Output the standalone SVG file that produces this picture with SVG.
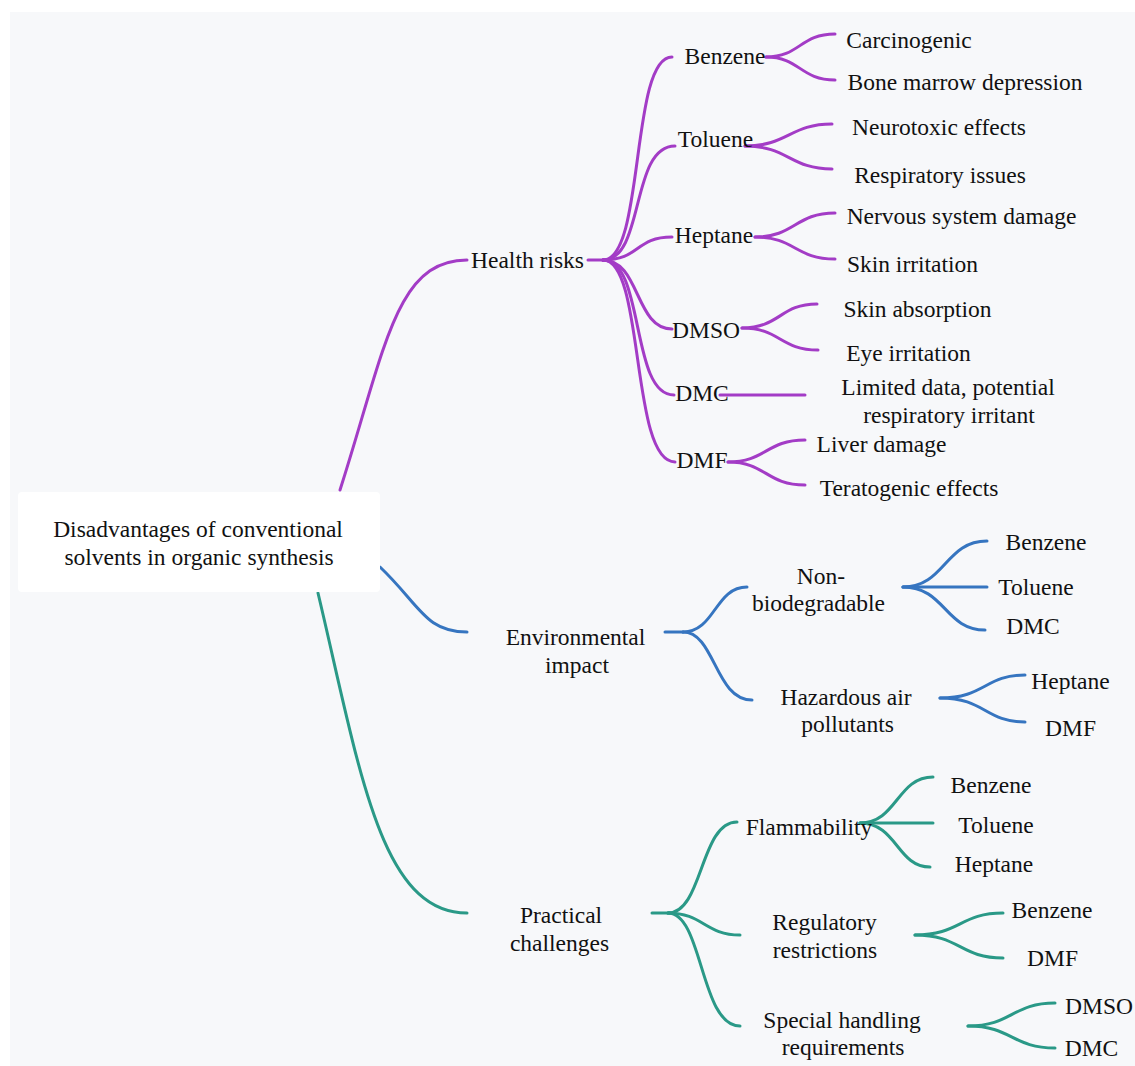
<svg xmlns="http://www.w3.org/2000/svg" width="1135" height="1066" viewBox="0 0 1135 1066" font-family="Liberation Serif, Times New Roman, serif">
<style>
text{font-size:23.5px;fill:#111;text-anchor:middle}
.c{fill:none;stroke-width:3;stroke-linecap:round}
.p{stroke:#a33cc6}
.b{stroke:#3675c0}
.t{stroke:#2a9987}
</style>
<rect x="10" y="12" width="1125" height="1054" fill="#f7f8fa"/>
<g id="connectors">
<path class="c p" d="M340,490 C385,350 395,260 467,260"/>
<path class="c b" d="M380,567 C420,605 425,632 467,632"/>
<path class="c t" d="M318,593 C360,770 380,913 467,913"/>
<path class="c p" d="M588,260 L603,260"/>
<path class="c p" d="M603,260 C645,260 630,57 672,57"/>
<path class="c p" d="M603,260 C645,260 630,146 675,146"/>
<path class="c p" d="M603,260 C640,260 635,237 672,237"/>
<path class="c p" d="M603,260 C640,260 635,329 672,329"/>
<path class="c p" d="M603,260 C645,260 630,395 674,395"/>
<path class="c p" d="M603,260 C645,260 630,462 675,462"/>
<path class="c p" d="M766,57 C800,57 800,34 835,34"/>
<path class="c p" d="M766,57 C800,57 800,80 835,80"/>
<path class="c p" d="M745,146 C788,146 790,124 832,124"/>
<path class="c p" d="M745,146 C788,146 790,169 832,169"/>
<path class="c p" d="M755,237 C795,237 795,213 835,213"/>
<path class="c p" d="M755,237 C795,237 795,259 835,259"/>
<path class="c p" d="M742,328 C780,328 780,304 817,304"/>
<path class="c p" d="M742,328 C780,328 780,350 818,350"/>
<path class="c p" d="M720,395 L805,395"/>
<path class="c p" d="M728,462 C766,462 766,440 805,440"/>
<path class="c p" d="M728,462 C766,462 766,485 805,485"/>
<path class="c b" d="M665,632 L683,632"/>
<path class="c b" d="M683,632 C715,632 715,587 747,587"/>
<path class="c b" d="M683,632 C715,632 715,700 752,700"/>
<path class="c b" d="M903,587 C945,587 945,541 987,541"/>
<path class="c b" d="M903,587 L987,587"/>
<path class="c b" d="M903,587 C945,587 945,630 985,630"/>
<path class="c b" d="M940,698 C985,698 985,675 1025,675"/>
<path class="c b" d="M940,698 C985,698 985,722 1025,722"/>
<path class="c t" d="M652,913 L670,913"/>
<path class="c t" d="M668,913 C703,913 700,822 737,822"/>
<path class="c t" d="M668,913 C703,913 705,935 740,935"/>
<path class="c t" d="M668,913 C703,913 700,1026 740,1026"/>
<path class="c t" d="M860,823 C897,823 897,777 933,777"/>
<path class="c t" d="M860,823 L933,823"/>
<path class="c t" d="M860,823 C897,823 897,867 930,867"/>
<path class="c t" d="M915,935 C960,935 960,913 1003,913"/>
<path class="c t" d="M915,935 C960,935 960,958 1003,958"/>
<path class="c t" d="M968,1026 C1012,1026 1012,1003 1055,1003"/>
<path class="c t" d="M968,1026 C1012,1026 1012,1048 1055,1048"/>
</g>
<g id="root">
<rect x="18" y="492" width="362" height="100" rx="4" fill="#ffffff"/>
<text x="198" y="537">Disadvantages of conventional</text>
<text x="199" y="565">solvents in organic synthesis</text>
</g>
<g id="health"><text x="527.5" y="268">Health risks</text></g>
<g id="h-benzene"><text x="725" y="64">Benzene</text></g>
<g id="h-toluene"><text x="715.5" y="147">Toluene</text></g>
<g id="h-heptane"><text x="714" y="243">Heptane</text></g>
<g id="h-dmso"><text x="706" y="338">DMSO</text></g>
<g id="h-dmc"><text x="702" y="401">DMC</text></g>
<g id="h-dmf"><text x="702" y="468">DMF</text></g>
<g id="h-carc"><text x="909" y="48">Carcinogenic</text></g>
<g id="h-bone"><text x="965" y="90">Bone marrow depression</text></g>
<g id="h-neuro"><text x="939" y="135">Neurotoxic effects</text></g>
<g id="h-resp"><text x="940" y="183">Respiratory issues</text></g>
<g id="h-nerv"><text x="961.5" y="224">Nervous system damage</text></g>
<g id="h-skin"><text x="912.5" y="272">Skin irritation</text></g>
<g id="h-skinabs"><text x="917.5" y="317">Skin absorption</text></g>
<g id="h-eye"><text x="908.5" y="361">Eye irritation</text></g>
<g id="h-limited"><text x="948" y="395">Limited data, potential</text><text x="949" y="423">respiratory irritant</text></g>
<g id="h-liver"><text x="881.5" y="452">Liver damage</text></g>
<g id="h-terat"><text x="909" y="496">Teratogenic effects</text></g>
<g id="env"><text x="575.5" y="645">Environmental</text><text x="577" y="673">impact</text></g>
<g id="e-nonbio"><text x="821" y="584">Non-</text><text x="818.5" y="611">biodegradable</text></g>
<g id="e-haz"><text x="846" y="705">Hazardous air</text><text x="847.5" y="732">pollutants</text></g>
<g id="e-benzene"><text x="1046" y="550">Benzene</text></g>
<g id="e-toluene"><text x="1036" y="595">Toluene</text></g>
<g id="e-dmc"><text x="1033" y="634">DMC</text></g>
<g id="e-heptane"><text x="1070.5" y="689">Heptane</text></g>
<g id="e-dmf"><text x="1070.5" y="736">DMF</text></g>
<g id="prac"><text x="561" y="923">Practical</text><text x="559.5" y="951">challenges</text></g>
<g id="p-flam"><text x="809" y="835">Flammability</text></g>
<g id="p-reg"><text x="824.5" y="930">Regulatory</text><text x="825" y="958">restrictions</text></g>
<g id="p-spec"><text x="842" y="1028">Special handling</text><text x="843" y="1055">requirements</text></g>
<g id="p-f-benzene"><text x="991" y="793">Benzene</text></g>
<g id="p-f-toluene"><text x="996" y="833">Toluene</text></g>
<g id="p-f-heptane"><text x="994" y="872">Heptane</text></g>
<g id="p-r-benzene"><text x="1052" y="918">Benzene</text></g>
<g id="p-r-dmf"><text x="1052.5" y="966">DMF</text></g>
<g id="p-s-dmso"><text x="1099" y="1014">DMSO</text></g>
<g id="p-s-dmc"><text x="1091.5" y="1056">DMC</text></g>
</svg>
